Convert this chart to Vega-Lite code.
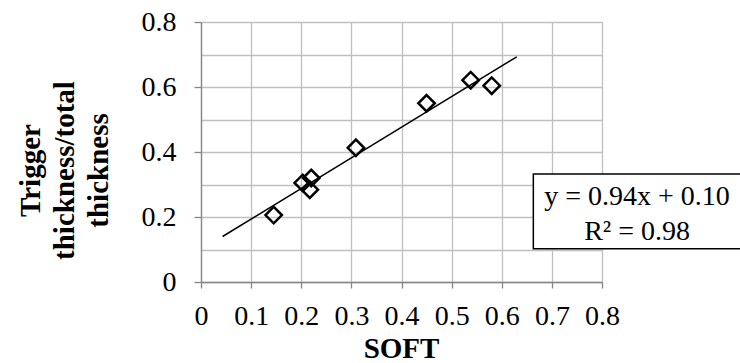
{
  "$schema": "https://vega.github.io/schema/vega-lite/v6.json",
  "width": 401,
  "height": 260,
  "autosize": {"type": "none"},
  "padding": {"left": 201, "top": 22, "right": 138, "bottom": 81},
  "background": "white",
  "config": {
    "view": {"stroke": null},
    "font": "Liberation Serif",
    "axis": {
      "labelFont": "Liberation Serif",
      "labelFontSize": 28,
      "labelColor": "black",
      "titleFont": "Liberation Serif",
      "titleFontSize": 29,
      "titleFontWeight": "bold",
      "titleColor": "black",
      "gridColor": "#bfbfbf",
      "gridWidth": 1.3,
      "domainColor": "#868686",
      "domainWidth": 1.3,
      "tickColor": "#868686",
      "tickWidth": 1.3
    }
  },
  "encoding": {
    "x": {
      "field": "x",
      "type": "quantitative",
      "scale": {"domain": [0, 0.8], "nice": false, "zero": false},
      "axis": {
        "title": "SOFT",
        "values": [0, 0.1, 0.2, 0.3, 0.4, 0.5, 0.6, 0.7, 0.8],
        "format": "~g",
        "tickSize": 6,
        "labelPadding": 14,
        "labelFlush": false,
        "labelOverlap": false,
        "titleBaseline": "alphabetic",
        "titleY": 75,
        "titleX": 200
      }
    },
    "y": {
      "field": "y",
      "type": "quantitative",
      "scale": {"domain": [0, 0.8], "nice": false, "zero": false},
      "axis": {
        "title": ["Trigger", "thickness/total", "thickness"],
        "values": [0, 0.1, 0.2, 0.3, 0.4, 0.5, 0.6, 0.7, 0.8],
        "format": "~g",
        "labelExpr": "round(datum.value*10) % 2 == 0 ? datum.label : ''",
        "tickOpacity": {"condition": {"test": "round(datum.value*10) % 2 == 1", "value": 0}, "value": 1},
        "tickSize": 7,
        "labelPadding": 18,
        "labelFlush": false,
        "labelOverlap": false,
        "titleAngle": -90,
        "titleAlign": "center",
        "titleBaseline": "middle",
        "titleLineHeight": 34,
        "titleX": -171,
        "titleY": 148
      }
    }
  },
  "layer": [
    {
      "data": {"values": [
        {"x": 0.043, "y": 0.14},
        {"x": 0.63, "y": 0.693}
      ]},
      "mark": {"type": "line", "color": "black", "strokeWidth": 1.5}
    },
    {
      "data": {"values": [
        {"x": 0.145, "y": 0.206},
        {"x": 0.203, "y": 0.305},
        {"x": 0.217, "y": 0.284},
        {"x": 0.22, "y": 0.32},
        {"x": 0.309, "y": 0.413},
        {"x": 0.45, "y": 0.55},
        {"x": 0.538, "y": 0.621},
        {"x": 0.58, "y": 0.604}
      ]},
      "mark": {"type": "point", "shape": "diamond", "filled": false, "stroke": "black", "strokeWidth": 2.5, "size": 270, "opacity": 1}
    },
    {
      "data": {"values": [
        {"x": 0.663, "x2": 1.08, "y": 0.102, "y2": 0.332}
      ]},
      "mark": {"type": "rect", "fill": "white", "stroke": "black", "strokeWidth": 1.5},
      "encoding": {
        "x2": {"field": "x2"},
        "y2": {"field": "y2"}
      }
    },
    {
      "data": {"values": [
        {"x": 0.87, "y": 0.237, "t": "y = 0.94x + 0.10"},
        {"x": 0.87, "y": 0.13, "t": "R² = 0.98"}
      ]},
      "mark": {"type": "text", "align": "center", "baseline": "alphabetic", "fontSize": 28, "font": "Liberation Serif", "color": "black"},
      "encoding": {
        "text": {"field": "t"}
      }
    }
  ]
}
